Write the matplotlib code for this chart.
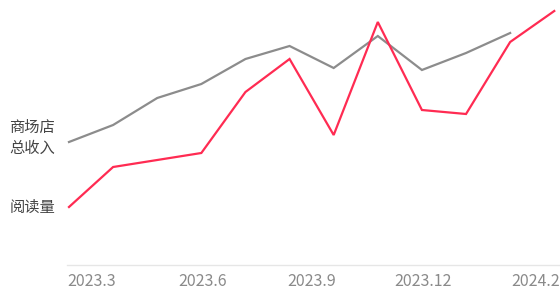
import matplotlib
matplotlib.use("Agg")
import matplotlib.pyplot as plt

plt.rcParams['font.family'] = ['Noto Sans CJK SC', 'DejaVu Sans']

months = ["2023.3", "2023.4", "2023.5", "2023.6", "2023.7", "2023.8", "2023.9",
          "2023.10", "2023.11", "2023.12", "2024.1", "2024.2"]
revenue = [128, 145, 172, 186, 211, 224, 202, 234, 200, 217, 237]
reads = [63, 103, 110, 117, 178, 211, 135, 248, 160, 156, 228, 259]
tick_labels = ["2023.3", "2023.6", "2023.9", "2023.12", "2024.2"]
tick_pos = [0.52, 3.02, 5.51, 8.03, 10.57]
series_labels = ["商场店\n总收入", "阅读量"]

W, H = 560, 290
fig = plt.figure(figsize=(W / 100, H / 100), dpi=100)
ax = fig.add_axes([67 / W, 25 / H, 493 / W, 265 / H])

gray = "#8c8c8c"
red = "#ff2b52"
ax.plot(range(len(revenue)), revenue, color=gray, lw=1.6, solid_joinstyle='miter', zorder=2)
ax.plot(range(len(reads)), reads, color=red, lw=1.6, solid_joinstyle='miter', zorder=3)

ax.set_xlim(-0.045, 11.13)
ax.set_ylim(5, 270)

for s in ["top", "right", "left"]:
    ax.spines[s].set_visible(False)
ax.spines["bottom"].set_color("#e6e6e6")
ax.spines["bottom"].set_linewidth(1.0)
ax.set_yticks([])
ax.set_xticks(tick_pos)
ax.set_xticklabels(tick_labels, fontsize=11.5, color="#8a8a8a", fontweight="light")
ax.tick_params(axis="x", length=0, pad=5.5)

ax.annotate(series_labels[0], xy=(0, revenue[0]), xytext=(-10, 3), textcoords="offset points",
            ha="right", va="center", fontsize=11, color="#444444", linespacing=1.3,
            annotation_clip=False)
ax.annotate(series_labels[1], xy=(0, reads[0]), xytext=(-10, 0), textcoords="offset points",
            ha="right", va="center", fontsize=11, color="#444444",
            annotation_clip=False)

fig.savefig("out.png", dpi=100)
